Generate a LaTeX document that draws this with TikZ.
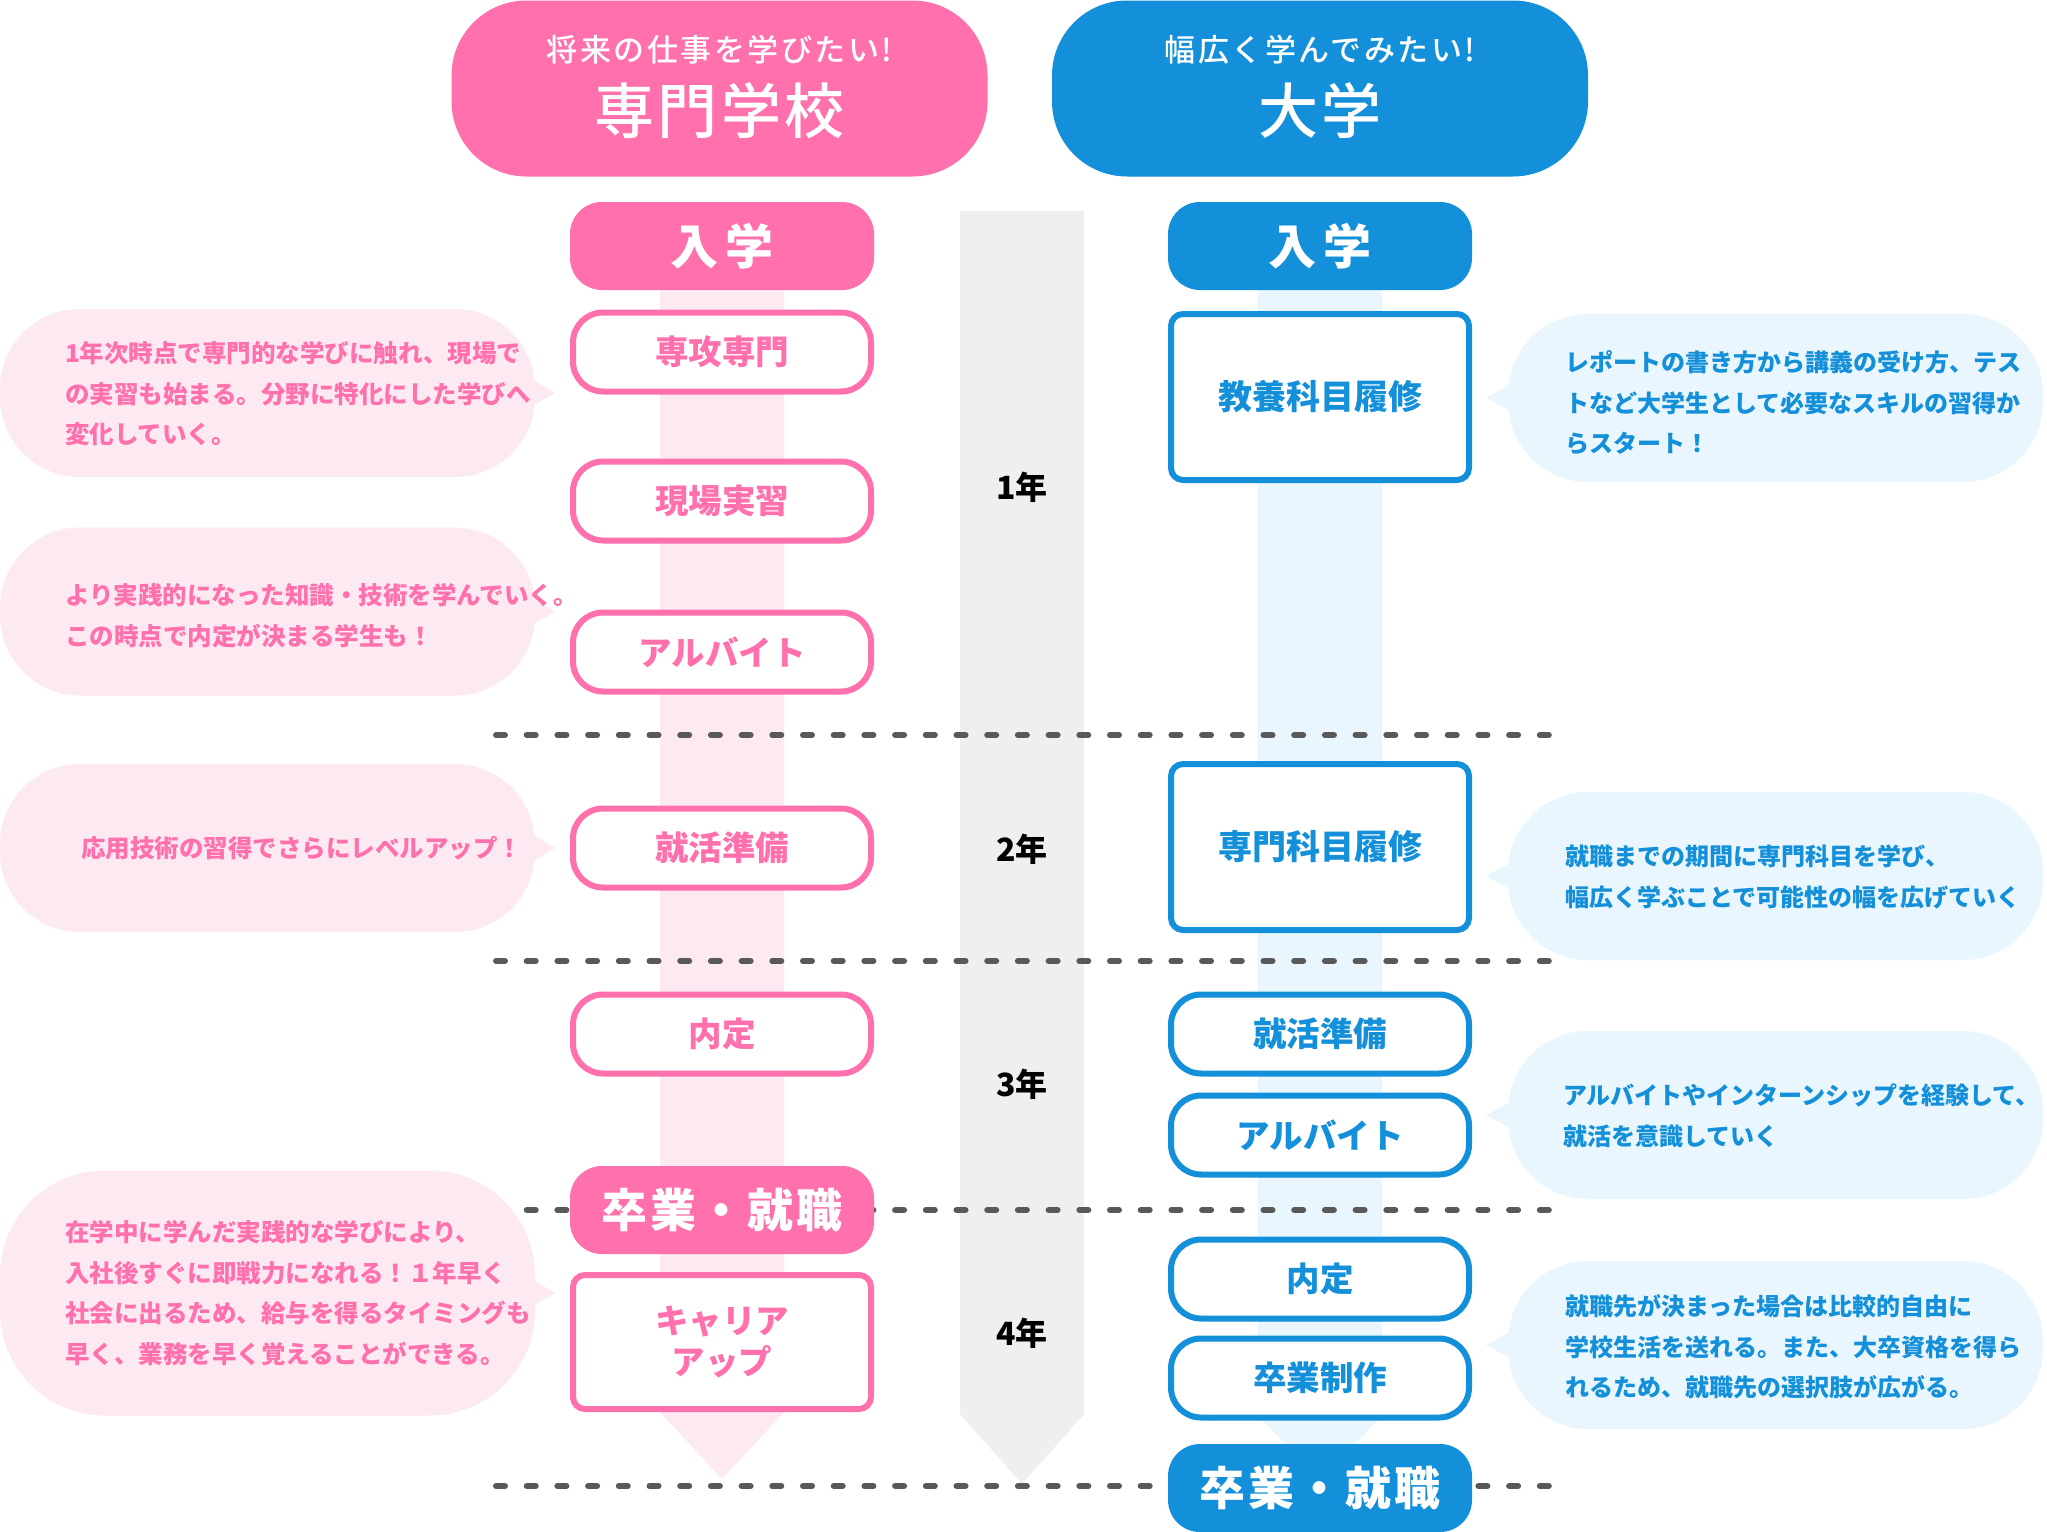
\documentclass[tikz,border=0pt]{standalone}
\usepackage{fontspec}
\setmainfont{Noto Sans CJK JP}
\newfontfamily\midfont{Noto Sans CJK JP Medium}
\usetikzlibrary{calc}

\definecolor{schoolPink}{HTML}{FF70AC}
\definecolor{schoolPinkLight}{HTML}{FDE9F2}
\definecolor{univBlue}{HTML}{1390D9}
\definecolor{univBlueLight}{HTML}{EAF6FD}
\definecolor{yearGray}{HTML}{EFEFEF}
\definecolor{lineGray}{HTML}{595959}

\begin{document}
\begin{tikzpicture}[x=1pt, y=-1pt,
  every node/.style={inner sep=0pt, outer sep=0pt},
  headpill/.style={rounded corners=75pt, minimum width=536pt, minimum height=176pt},
  headsub/.style={text=white, font=\midfont\fontsize{31}{31}\selectfont\addfontfeatures{LetterSpace=8}},
  headmain/.style={text=white, font=\midfont\fontsize{60}{60}\selectfont\addfontfeatures{LetterSpace=6}},
  pinkfill/.style={fill=schoolPink, rounded corners=32pt, minimum width=304pt, minimum height=88pt, text=white, font=\bfseries\fontsize{46}{46}\selectfont\addfontfeatures{LetterSpace=6}},
  bluefill/.style={pinkfill, fill=univBlue},
  entryfont/.style={font=\bfseries\fontsize{48}{48}\selectfont\addfontfeatures{LetterSpace=14}},
  pinkpill/.style={draw=schoolPink, line width=6pt, fill=white, rounded corners=30pt, minimum width=298pt, minimum height=79pt, text=schoolPink, font=\bfseries\fontsize{33.5}{41}\selectfont, align=center},
  bluepill/.style={pinkpill, draw=univBlue, text=univBlue},
  pinkbox/.style={pinkpill, rounded corners=12pt},
  bluebox/.style={bluepill, rounded corners=12pt, minimum height=166pt, font=\bfseries\fontsize{34}{41}\selectfont},
  pinkbubble/.style={fill=schoolPinkLight, rounded corners=80pt, minimum width=535pt, minimum height=168pt},
  bluebubble/.style={pinkbubble, fill=univBlueLight},
  pinknote/.style={text=schoolPink, align=left, anchor=west, font=\bfseries\fontsize{24.5}{40.5}\selectfont},
  bluenote/.style={pinknote, text=univBlue, font=\bfseries\fontsize{24}{40.5}\selectfont},
  yearlabel/.style={text=black, font=\bfseries\fontsize{32}{32}\selectfont},
  sepline/.style={draw=lineGray, line width=6pt, line cap=round, dash pattern=on 9pt off 21.7pt}]

  \fill[white] (0,0) rectangle (2047,1531);
  \useasboundingbox (0,0) rectangle (2047,1531);

  % titles
  \node[headpill, fill=schoolPink] (pinkHead) at (719.5,88.5) {};
  \node[headsub] (pinkHeadSub) at (719.5,50) {将来の仕事を学びたい!};
  \node[headmain] (pinkHeadMain) at (719.5,111) {専門学校};
  \node[headpill, fill=univBlue] (blueHead) at (1320,88.5) {};
  \node[headsub] (blueHeadSub) at (1320,50) {幅広く学んでみたい!};
  \node[headmain] (blueHeadMain) at (1320,111) {大学};

  % arrows behind the columns
  \fill[yearGray] (960,211) -- (1084,211) -- (1084,1414) -- (1022,1484) -- (960,1414) -- cycle;
  \fill[schoolPinkLight] (660,246) -- (784,246) -- (784,1412) -- (722,1479) -- (660,1412) -- cycle;
  \fill[univBlueLight] (1258,246) -- (1382,246) -- (1382,1415) -- (1320,1482) -- (1258,1415) -- cycle;

  % year borders
  \draw[sepline] (496,735) -- (1553,735);
  \draw[sepline] (496,961) -- (1553,961);
  \draw[sepline] (496,1210) -- (1553,1210);
  \draw[sepline] (496,1486) -- (1553,1486);

  \node[yearlabel] (yearOne) at (1022,487) {1年};
  \node[yearlabel] (yearTwo) at (1022,849) {2年};
  \node[yearlabel] (yearThree) at (1022,1084) {3年};
  \node[yearlabel] (yearFour) at (1022,1333) {4年};

  % notes, left
  \node[pinkbubble] (pinkNoteA) at (267.5,393) {};
  \fill[schoolPinkLight] ($(pinkNoteA.east)+(-4,-14)$) -- ($(pinkNoteA.east)+(20,0)$) -- ($(pinkNoteA.east)+(-4,14)$) -- cycle;
  \node[pinknote] (pinkNoteAText) at ($(pinkNoteA.west)+(65,1)$) {1年次時点で専門的な学びに触れ、現場で\\の実習も始まる。分野に特化にした学びへ\\変化していく。};

  \node[pinkbubble] (pinkNoteB) at (267.5,611.5) {};
  \fill[schoolPinkLight] ($(pinkNoteB.east)+(-4,-14)$) -- ($(pinkNoteB.east)+(20,0)$) -- ($(pinkNoteB.east)+(-4,14)$) -- cycle;
  \node[pinknote] (pinkNoteBText) at ($(pinkNoteB.west)+(65,4)$) {より実践的になった知識・技術を学んでいく。\\この時点で内定が決まる学生も！};

  \node[pinkbubble] (pinkNoteC) at (267.5,848) {};
  \fill[schoolPinkLight] ($(pinkNoteC.east)+(-4,-14)$) -- ($(pinkNoteC.east)+(20,0)$) -- ($(pinkNoteC.east)+(-4,14)$) -- cycle;
  \node[pinknote] (pinkNoteCText) at ($(pinkNoteC.west)+(81,0)$) {応用技術の習得でさらにレベルアップ！};

  \node[pinkbubble, minimum height=245pt, rounded corners=105pt] (pinkNoteD) at (267.5,1293) {};
  \fill[schoolPinkLight] ($(pinkNoteD.east)+(-4,-14)$) -- ($(pinkNoteD.east)+(20,0)$) -- ($(pinkNoteD.east)+(-4,14)$) -- cycle;
  \node[pinknote] (pinkNoteDText) at ($(pinkNoteD.west)+(65,0)$) {在学中に学んだ実践的な学びにより、\\入社後すぐに即戦力になれる！１年早く\\社会に出るため、給与を得るタイミングも\\早く、業務を早く覚えることができる。};

  % notes, right
  \node[bluebubble] (blueNoteA) at (1775.5,398) {};
  \fill[univBlueLight] ($(blueNoteA.west)+(4,-14)$) -- ($(blueNoteA.west)+(-22,0)$) -- ($(blueNoteA.west)+(4,14)$) -- cycle;
  \node[bluenote] (blueNoteAText) at ($(blueNoteA.west)+(57,5)$) {レポートの書き方から講義の受け方、テス\\トなど大学生として必要なスキルの習得か\\らスタート！};

  \node[bluebubble] (blueNoteB) at (1775.5,876) {};
  \fill[univBlueLight] ($(blueNoteB.west)+(4,-14)$) -- ($(blueNoteB.west)+(-22,0)$) -- ($(blueNoteB.west)+(4,14)$) -- cycle;
  \node[bluenote] (blueNoteBText) at ($(blueNoteB.west)+(57,1)$) {就職までの期間に専門科目を学び、\\幅広く学ぶことで可能性の幅を広げていく};

  \node[bluebubble] (blueNoteC) at (1775.5,1115) {};
  \fill[univBlueLight] ($(blueNoteC.west)+(4,-14)$) -- ($(blueNoteC.west)+(-22,0)$) -- ($(blueNoteC.west)+(4,14)$) -- cycle;
  \node[bluenote] (blueNoteCText) at ($(blueNoteC.west)+(55,1)$) {アルバイトやインターンシップを経験して、\\就活を意識していく};

  \node[bluebubble] (blueNoteD) at (1775.5,1345) {};
  \fill[univBlueLight] ($(blueNoteD.west)+(4,-14)$) -- ($(blueNoteD.west)+(-22,0)$) -- ($(blueNoteD.west)+(4,14)$) -- cycle;
  \node[bluenote] (blueNoteDText) at ($(blueNoteD.west)+(57,2)$) {就職先が決まった場合は比較的自由に\\学校生活を送れる。また、大卒資格を得ら\\れるため、就職先の選択肢が広がる。};

  % vocational school column
  \node[pinkfill, entryfont] (pinkEntry) at (722,246) {入学};
  \node[pinkpill] (pinkMajor) at (722,352) {専攻専門};
  \node[pinkpill] (pinkPractice) at (722,501) {現場実習};
  \node[pinkpill] (pinkJob) at (722,652) {アルバイト};
  \node[pinkpill] (pinkPrep) at (722,848) {就活準備};
  \node[pinkpill] (pinkOffer) at (722,1034) {内定};
  \node[pinkfill] (pinkGrad) at (722,1210) {卒業・就職};
  \node[pinkbox, minimum height=134pt] (pinkCareer) at (722,1342) {キャリア\\アップ};

  % university column
  \node[bluefill, entryfont] (blueEntry) at (1320,246) {入学};
  \node[bluebox] (blueLiberal) at (1320,397) {教養科目履修};
  \node[bluebox] (blueMajor) at (1320,847) {専門科目履修};
  \node[bluepill] (bluePrep) at (1320,1034) {就活準備};
  \node[bluepill] (blueJob) at (1320,1135) {アルバイト};
  \node[bluepill] (blueOffer) at (1320,1279) {内定};
  \node[bluepill] (blueThesis) at (1320,1378) {卒業制作};
  \node[bluefill] (blueGrad) at (1320,1488) {卒業・就職};
\end{tikzpicture}
\end{document}
